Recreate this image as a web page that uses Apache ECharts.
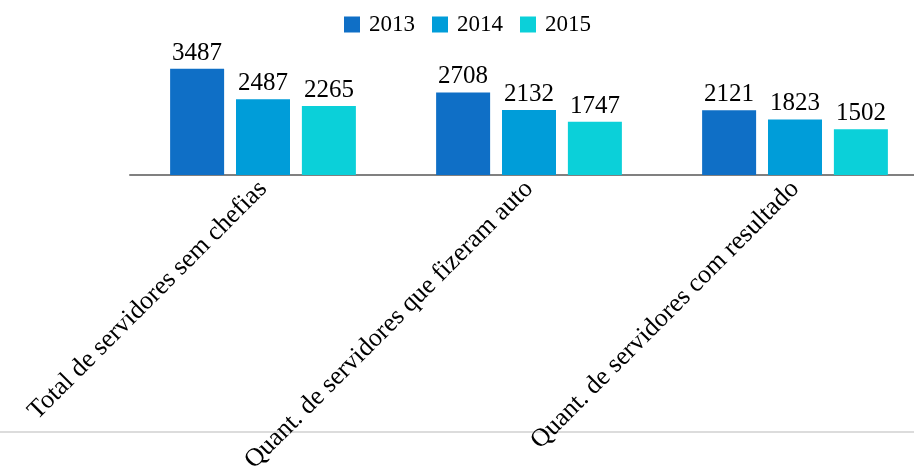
<!DOCTYPE html>
<html>
<head>
<meta charset="utf-8">
<script src="https://cdn.jsdelivr.net/npm/echarts@6/dist/echarts.min.js"></script>
<style>
    html, body { margin: 0; padding: 0; background: #fff; }
    #chart { width: 914px; height: 468px; }
</style>
</head>
<body>
<div id="chart"></div>
<script>
var categorias = ['Total de servidores sem chefias', 'Quant. de servidores que fizeram auto', 'Quant. de servidores com resultado'];
var anos = ['2013', '2014', '2015'];
var valores2013 = [3487, 2708, 2121];
var valores2014 = [2487, 2132, 1823];
var valores2015 = [2265, 1747, 1502];
var cores = ['#0F6FC6', '#009DD9', '#0BD0D9'];

var fonte = '"Liberation Serif", "DejaVu Serif", serif';

var chart = echarts.init(document.getElementById('chart'));

function serie(nome, dados, cor) {
    return {
        name: nome,
        type: 'bar',
        data: dados,
        barWidth: 54,
        barGap: '22%',
        itemStyle: { color: cor },
        label: {
            show: true,
            position: 'top',
            distance: 3,
            color: '#000',
            fontFamily: fonte,
            fontSize: 25
        }
    };
}

var options = {
    animation: false,
    backgroundColor: '#fff',
    legend: {
        top: 8,
        left: 339,
        itemWidth: 16,
        itemHeight: 16,
        itemGap: 17,
        icon: 'rect',
        textStyle: { color: '#000', fontFamily: fonte, fontSize: 23, padding: [0, 0, 0, 4] },
        data: anos
    },
    grid: { left: 130, width: 798, top: 53, bottom: 293, containLabel: false, outerBoundsMode: 'none' },
    xAxis: {
        type: 'category',
        data: categorias,
        axisLine: { lineStyle: { color: '#808080', width: 2 } },
        axisTick: { show: false },
        axisLabel: {
            rotate: 45,
            margin: 10,
            color: '#000',
            fontFamily: fonte,
            fontSize: 26,
            interval: 0
        }
    },
    yAxis: {
        type: 'value',
        min: 0,
        max: 4000,
        show: false
    },
    graphic: [{
        type: 'line',
        shape: { x1: 0, y1: 432, x2: 914, y2: 432 },
        style: { stroke: '#dcdcdc', lineWidth: 2 }
    }],
    series: [
        serie(anos[0], valores2013, cores[0]),
        serie(anos[1], valores2014, cores[1]),
        serie(anos[2], valores2015, cores[2])
    ]
};
chart.setOption(options);
</script>
</body>
</html>
